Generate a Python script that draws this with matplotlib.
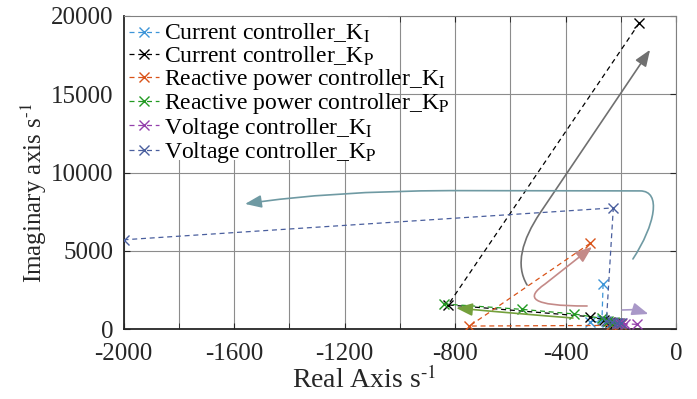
import matplotlib
matplotlib.use('Agg')
import matplotlib.pyplot as plt
from matplotlib.patches import FancyArrowPatch, Rectangle
from matplotlib.path import Path

plt.rcParams['font.family'] = ['Liberation Serif', 'DejaVu Serif']
plt.rcParams['mathtext.fontset'] = 'stix'
plt.rcParams['axes.unicode_minus'] = False

# root locus points (real, imaginary) for each swept gain
cur_ki_re = [-264, -268, -311, -250, -232, -215]
cur_ki_im = [2875, 600, 467, 430, 400, 380]
cur_kp_re = [-133, -825, -311, -262, -240, -220]
cur_kp_im = [19550, 1540, 787, 600, 470, 400]
rp_ki_re = [-311, -748, -235, -215, -200]
rp_ki_im = [5475, 190, 230, 320, 350]
rp_kp_re = [-840, -558, -368, -269, -245, -225, -205]
rp_kp_im = [1600, 1257, 960, 684, 520, 440, 400]
v_ki_re = [-142, -185, -195, -205, -215]
v_ki_im = [300, 330, 360, 380, 400]
v_kp_re = [-2000, -227, -252, -230, -215, -200]
v_kp_im = [5700, 7740, 500, 420, 390, 360]

labels = ['Current controller_K$_\\mathrm{I}$',
          'Current controller_K$_\\mathrm{P}$',
          'Reactive power controller_K$_\\mathrm{I}$',
          'Reactive power controller_K$_\\mathrm{P}$',
          'Voltage controller_K$_\\mathrm{I}$',
          'Voltage controller_K$_\\mathrm{P}$']
colors = ['#3d95d8', '#000000', '#d95319', '#229a22', '#9440ac', '#4a5f9e']
series = [(cur_ki_re, cur_ki_im), (cur_kp_re, cur_kp_im), (rp_ki_re, rp_ki_im),
          (rp_kp_re, rp_kp_im), (v_ki_re, v_ki_im), (v_kp_re, v_kp_im)]

# direction arrows (curved), vertices in data coords
C4 = Path.CURVE4
L = Path.LINETO
arrows = [
    ('#707070', [(-539, 2813), (-583, 4092), (-557, 5691), (-492, 7417), (-94, 17839)],
     [Path.MOVETO, C4, C4, C4, L]),
    ('#6f9aa3', [(-156, 4476), (-76, 6650), (-51, 8824), (-130, 8824), (-818, 8843),
                 (-1252, 8824), (-1560, 7992)],
     [Path.MOVETO, C4, C4, C4, L, Path.CURVE3, Path.CURVE3]),
    ('#c48a88', [(-322, 1471), (-528, 1471), (-547, 1982), (-474, 2877), (-304, 5243)],
     [Path.MOVETO, C4, C4, C4, L]),
    ('#74a03c', [(-373, 703), (-565, 959), (-796, 1343)],
     [Path.MOVETO, Path.CURVE3, Path.CURVE3]),
    ('#a998c8', [(-195, 1215), (-150, 1240), (-100, 960)],
     [Path.MOVETO, L, L]),
]

fig = plt.figure(figsize=(6.97, 3.99), dpi=100)
ax = fig.add_axes([0.1772, 0.1754, 0.7927, 0.7845])

for (xs, ys), c, lab in zip(series, colors, labels):
    ax.plot(xs, ys, linestyle=(0, (4, 3)), color=c, lw=0.9, marker='x',
            markersize=7, mew=1.0, label=lab, zorder=3)

astyle = '-|>,head_length=0.9,head_width=0.35'
for c, verts, codes in arrows:
    p = FancyArrowPatch(path=Path(verts, codes), arrowstyle=astyle,
                        mutation_scale=11, color=c, lw=1.2, zorder=4)
    ax.add_patch(p)

ax.set_xlim(-2000, 0)
ax.set_ylim(0, 20000)
ax.set_xticks([-2000, -1600, -1200, -800, -400, 0])
ax.set_xticks(range(-1800, 0, 400), minor=True)
ax.set_yticks([0, 5000, 10000, 15000, 20000])
ax.grid(True, which='both', color='#8c8c8c', lw=0.8)
ax.set_axisbelow(True)
ax.tick_params(which='both', direction='in', top=True, right=True, length=4,
               labelsize=18, colors='#262626')
ax.tick_params(axis='x', pad=10)
ax.tick_params(axis='y', pad=7)
for s in ['left', 'bottom']:
    ax.spines[s].set_color('#262626')
    ax.spines[s].set_linewidth(1.3)
for s in ['top', 'right']:
    ax.spines[s].set_color('#808080')
    ax.spines[s].set_linewidth(0.8)

ax.set_xlabel('Real Axis s$^\\text{-1}$', fontsize=20, color='#262626')
ax.set_ylabel('Imaginary axis s$^\\text{-1}$', fontsize=18, color='#262626')
ax.xaxis.set_label_coords(0.435, -0.12)
ax.yaxis.set_label_coords(-0.135, 0.435)

# white legend background, narrower than the text as in the original
ax.add_patch(Rectangle((0, 0.54), 0.479, 0.46, transform=ax.transAxes,
                       facecolor='white', edgecolor='none', zorder=2))
leg = ax.legend(loc='upper left', frameon=False, fontsize=17, handlelength=1.25,
                handletextpad=0.2, labelspacing=-0.03, borderaxespad=0.25, borderpad=0.0)
leg.set_zorder(5)

fig.savefig('out.png', dpi=100)
